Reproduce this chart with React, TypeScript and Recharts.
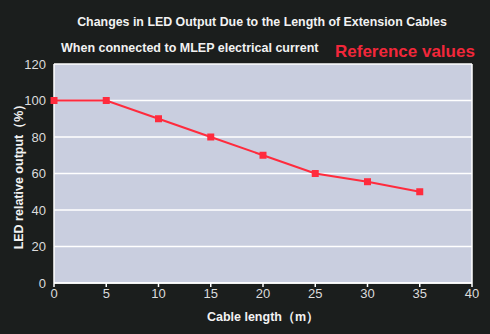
import { LineChart, Line, XAxis, YAxis, CartesianGrid, ReferenceLine, Label } from "recharts";

const lengths = [0, 5, 10, 15, 20, 25, 30, 35];
const outputs = [100, 100, 90, 80, 70, 60, 55.5, 50];
const xTicks = [0, 5, 10, 15, 20, 25, 30, 35, 40];
const yTicks = [0, 20, 40, 60, 80, 100, 120];

const data = lengths.map((len, i) => ({ len, out: outputs[i] }));

const font = "'Liberation Sans', Arial, Helvetica, sans-serif";

const SquareDot = (props: any) => {
  const { cx, cy } = props;
  if (cx == null || cy == null) return null;
  return <rect x={cx - 3.5} y={cy - 3.5} width={7} height={7} fill="#ff2b3d" />;
};

export default function App() {
  return (
    <div
      style={{
        position: "absolute",
        left: 0,
        top: 0,
        width: 490,
        height: 334,
        background: "#1b1e1d",
        fontFamily: font,
      }}
    >
      <div
        style={{
          position: "absolute",
          left: 0,
          width: 524,
          top: 15,
          textAlign: "center",
          color: "#f2f2f2",
          fontWeight: "bold",
          fontSize: 12.4,
        }}
      >
        Changes in LED Output Due to the Length of Extension Cables
      </div>
      <div
        style={{
          position: "absolute",
          left: 61,
          top: 41,
          color: "#f2f2f2",
          fontWeight: "bold",
          fontSize: 12.5,
        }}
      >
        When connected to MLEP electrical current
      </div>
      <div
        style={{
          position: "absolute",
          left: 335,
          top: 42,
          color: "#f2273a",
          fontWeight: "bold",
          fontSize: 17,
        }}
      >
        Reference values
      </div>
      <div style={{ position: "absolute", left: 0, top: 0 }}>
        <LineChart
          width={490}
          height={334}
          data={data}
          margin={{ top: 64, right: 18, bottom: 21, left: 14 }}
        >
          <CartesianGrid vertical={false} stroke="#ffffff" strokeWidth={1.5} fill="#c9cedf" />
          <XAxis
            dataKey="len"
            type="number"
            domain={[0, 40]}
            ticks={xTicks}
            height={30}
            stroke="#ffffff"
            strokeWidth={1.5}
            tickSize={4}
            tick={{ fill: "#dcdcdc", fontSize: 13, fontFamily: font }}
          >
            <Label
              value="Cable length（m）"
              position="insideBottom"
              offset={-8}
              style={{ fill: "#f2f2f2", fontWeight: "bold", fontSize: 12.5, fontFamily: font }}
            />
          </XAxis>
          <YAxis
            type="number"
            domain={[0, 120]}
            ticks={yTicks}
            width={40}
            stroke="#ffffff"
            strokeWidth={1.5}
            tickLine={false}
            tick={{ fill: "#dcdcdc", fontSize: 13, fontFamily: font }}
          >
            <Label
              value="LED relative output（%）"
              angle={-90}
              position="insideLeft"
              offset={5}
              style={{ textAnchor: "middle", fill: "#f2f2f2", fontWeight: "bold", fontSize: 12.5, fontFamily: font }}
            />
          </YAxis>
          <ReferenceLine x={40} stroke="#ffffff" strokeWidth={1.5} />
          <Line
            dataKey="out"
            stroke="#ff2b3d"
            strokeWidth={2}
            dot={<SquareDot />}
            activeDot={false}
            isAnimationActive={false}
          />
        </LineChart>
      </div>
    </div>
  );
}
